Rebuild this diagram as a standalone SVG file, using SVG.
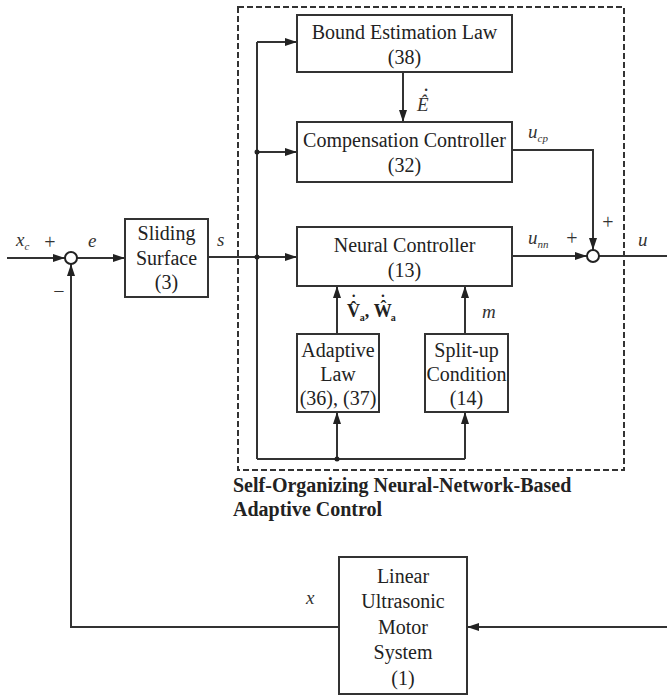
<svg xmlns="http://www.w3.org/2000/svg" width="667" height="696" viewBox="0 0 667 696">
<defs>
<marker id="ah" markerWidth="12" markerHeight="10" refX="12" refY="5" orient="auto" markerUnits="userSpaceOnUse">
<path d="M0,1 L12,5 L0,9 Z" fill="#222"/>
</marker>
<style>
.box{fill:#fff;stroke:#333;stroke-width:2}
.ln{fill:none;stroke:#333;stroke-width:2}
.arr{fill:none;stroke:#333;stroke-width:2;marker-end:url(#ah)}
.t{font-family:"Liberation Serif","Times New Roman",serif;font-size:20px;fill:#222;text-anchor:middle}
.i{font-family:"Liberation Serif","Times New Roman",serif;font-style:italic;font-size:19px;fill:#333}
.sub{font-size:11px}
.sign{font-family:"Liberation Serif","Times New Roman",serif;font-size:20px;fill:#333;text-anchor:middle}
.ttl{font-family:"Liberation Serif","Times New Roman",serif;font-weight:bold;font-size:20px;fill:#222}
.bv{font-family:"Liberation Serif","Times New Roman",serif;font-weight:bold;font-size:18px;fill:#222}
.acc{font-size:16px;font-weight:bold}
.dash{fill:none;stroke:#333;stroke-width:2;stroke-dasharray:6,3}
.dot{fill:#222}
.sum{fill:#fff;stroke:#222;stroke-width:2}
</style>
</defs>
<rect width="667" height="696" fill="#fff"/>

<g id="controller-frame">
<rect class="dash" x="238" y="7" width="386" height="463"/>
<text class="ttl" x="233" y="492">Self-Organizing Neural-Network-Based</text>
<text class="ttl" x="233" y="516">Adaptive Control</text>
</g>

<g id="connectors">
<line class="arr" x1="7" y1="258" x2="65" y2="258"/>
<line class="arr" x1="77" y1="258" x2="125" y2="258"/>
<line class="arr" x1="208" y1="257" x2="297" y2="257"/>
<line class="ln" x1="257" y1="42" x2="257" y2="459"/>
<line class="arr" x1="257" y1="42" x2="297" y2="42"/>
<line class="arr" x1="257" y1="152" x2="297" y2="152"/>
<line class="ln" x1="257" y1="459" x2="465" y2="459"/>
<line class="arr" x1="337" y1="459" x2="337" y2="412"/>
<line class="arr" x1="465" y1="459" x2="465" y2="412"/>
<circle class="dot" cx="257" cy="152" r="2.5"/>
<circle class="dot" cx="257" cy="257" r="2.5"/>
<circle class="dot" cx="337" cy="459" r="2.5"/>
<line class="arr" x1="403" y1="72" x2="403" y2="122"/>
<line class="arr" x1="337" y1="334" x2="337" y2="286"/>
<line class="arr" x1="465" y1="334" x2="465" y2="286"/>
<polyline class="arr" points="512,150 593,150 593,250"/>
<line class="arr" x1="512" y1="256" x2="587" y2="256"/>
<line class="ln" x1="599" y1="256" x2="667" y2="256"/>
<line class="arr" x1="667" y1="627" x2="467" y2="627"/>
<polyline class="arr" points="339,627 71,627 71,264"/>
</g>

<g id="sum1"><circle class="sum" cx="71" cy="258" r="6"/></g>
<g id="sum2"><circle class="sum" cx="593" cy="256" r="6"/></g>

<g id="sliding-surface">
<rect class="box" x="125" y="219" width="83" height="78"/>
<text class="t" x="166.5" y="240">Sliding</text>
<text class="t" x="166.5" y="265">Surface</text>
<text class="t" x="166.5" y="289">(3)</text>
</g>

<g id="bound-estimation">
<rect class="box" x="297" y="15" width="215" height="57"/>
<text class="t" x="404.5" y="39">Bound Estimation Law</text>
<text class="t" x="404.5" y="64">(38)</text>
</g>

<g id="compensation">
<rect class="box" x="297" y="122" width="215" height="60"/>
<text class="t" x="404.5" y="147">Compensation Controller</text>
<text class="t" x="404.5" y="172">(32)</text>
</g>

<g id="neural">
<rect class="box" x="297" y="227" width="215" height="59"/>
<text class="t" x="404.5" y="252">Neural Controller</text>
<text class="t" x="404.5" y="277">(13)</text>
</g>

<g id="adaptive-law">
<rect class="box" x="297" y="334" width="82" height="78"/>
<text class="t" x="338" y="357">Adaptive</text>
<text class="t" x="338" y="381">Law</text>
<text class="t" x="338" y="405">(36), (37)</text>
</g>

<g id="split-up">
<rect class="box" x="425" y="334" width="83" height="78"/>
<text class="t" x="466.5" y="357">Split-up</text>
<text class="t" x="466.5" y="381">Condition</text>
<text class="t" x="466.5" y="405">(14)</text>
</g>

<g id="motor">
<rect class="box" x="339" y="557" width="128" height="137"/>
<text class="t" x="403" y="583">Linear</text>
<text class="t" x="403" y="608">Ultrasonic</text>
<text class="t" x="403" y="634">Motor</text>
<text class="t" x="403" y="659">System</text>
<text class="t" x="403" y="685">(1)</text>
</g>

<g id="labels">
<text class="i" x="16" y="246">x<tspan class="sub" dy="4">c</tspan></text>
<text class="sign" x="50" y="249">+</text>
<text class="sign" x="59" y="298">−</text>
<text class="i" x="88" y="247" font-size="22">e</text>
<text class="i" x="217" y="246" font-size="22">s</text>
<text class="i" x="417" y="111">Ê<tspan class="acc" dx="-6" dy="-11">˙</tspan></text>
<text class="i" x="528" y="138">u<tspan class="sub" dy="4">cp</tspan></text>
<text class="i" x="528" y="244">u<tspan class="sub" dy="4">nn</tspan></text>
<text class="sign" x="572" y="245">+</text>
<text class="sign" x="608" y="229">+</text>
<text class="i" x="638" y="246">u</text>
<text class="bv" x="347" y="317">V̂<tspan class="acc" dx="-9" dy="-11">˙</tspan><tspan font-size="10" dx="3.5" dy="15">a</tspan><tspan dy="-4">, Ŵ</tspan><tspan class="acc" dx="-11.5" dy="-11">˙</tspan><tspan font-size="10" dx="5" dy="15">a</tspan></text>
<text class="i" x="482" y="318">m</text>
<text class="i" x="306" y="604">x</text>
</g>
</svg>
